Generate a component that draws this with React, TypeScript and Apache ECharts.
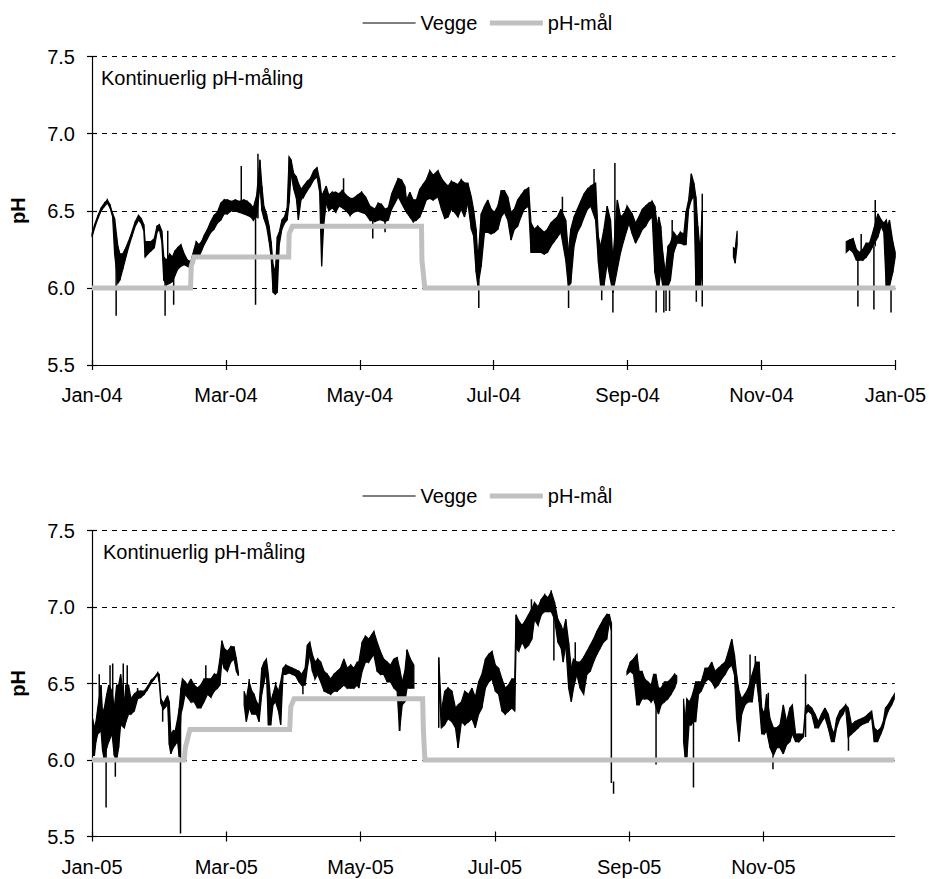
import React, { useEffect, useRef } from "react";
import * as echarts from "echarts";

type Rec = [number, number, number] | null;
type Spike = [number, number, number];

const FONT = "'Liberation Sans', Arial, sans-serif";

// x axis: days from 1 Jan of the panel year, ticks every 61 days
const xTickDays2004 = [0, 61, 122, 183, 244, 305, 366];
const xTickLabels2004 = ["Jan-04", "Mar-04", "May-04", "Jul-04", "Sep-04", "Nov-04", "Jan-05"];
const xTickDays2005 = [0, 61, 122, 183, 244, 305];
const xTickLabels2005 = ["Jan-05", "Mar-05", "May-05", "Jul-05", "Sep-05", "Nov-05"];

const legendNames = ["Vegge", "pH-mål"];
const noteText = "Kontinuerlig pH-måling";
const yName = "pH";

// Vegge 2004: [day, low, high] envelope of the measured pH (null = no data)
const veggeBand2004: Rec[] = [
  [0, 6.33, 6.35], [1.2, 6.39, 6.41], [2.7, 6.45, 6.47], [4.2, 6.5, 6.52], [5.7, 6.53, 6.55],
  [7, 6.55, 6.57], [8.2, 6.52, 6.54], [9.4, 6.46, 6.48], [10.3, 6.22, 6.45], [11.8, 6.03, 6.27],
  [12.7, 6.05, 6.22], [14, 6.12, 6.22], [15.1, 6.18, 6.25], [16.6, 6.26, 6.3], [18.1, 6.33, 6.36],
  [19.7, 6.4, 6.43], [21.2, 6.44, 6.47], [22.4, 6.42, 6.45], [23.6, 6.37, 6.41], [24.2, 6.2, 6.3],
  [25.4, 6.22, 6.3], [26.9, 6.24, 6.3], [28.4, 6.26, 6.32], [29.6, 6.36, 6.4], [30.7, 6.38, 6.41],
  [31.8, 6.3, 6.37], [32.7, 6.05, 6.2], [33.9, 6.02, 6.18], [35.4, 6.03, 6.22], [36.6, 6.04, 6.2],
  [37.8, 6.08, 6.24], [39, 6.12, 6.26], [40.5, 6.14, 6.28], [42, 6.15, 6.22], [43.5, 6.14, 6.18],
  [45, 6.13, 6.17], [46.3, 6.16, 6.24], [47.5, 6.22, 6.3], [48.7, 6.2, 6.28], [49.9, 6.24, 6.3],
  [51.1, 6.28, 6.34], [52.6, 6.32, 6.38], [54.1, 6.36, 6.43], [55.6, 6.38, 6.47], [57.1, 6.42, 6.49],
  [58.7, 6.44, 6.55], [60.2, 6.48, 6.57], [61.7, 6.48, 6.57], [63.5, 6.5, 6.56], [65.3, 6.5, 6.57],
  [67.1, 6.49, 6.56], [69.2, 6.48, 6.57], [70.8, 6.47, 6.56], [72.3, 6.46, 6.54], [73.5, 6.44, 6.52],
  [75, 6.46, 6.6], [76.5, 6.66, 6.83], [77.4, 6.5, 6.66], [78.3, 6.45, 6.53], [79.5, 6.4, 6.48],
  [80.7, 6.3, 6.4], [81.6, 6.2, 6.3], [82.5, 5.97, 6.15], [83.5, 5.96, 6.1], [84.4, 5.97, 6.33],
  [85.3, 6.28, 6.36], [86.5, 6.38, 6.44], [87.7, 6.42, 6.46], [88.9, 6.44, 6.52], [89.8, 6.55, 6.85],
  [90.7, 6.74, 6.83], [91.9, 6.64, 6.74], [93.1, 6.58, 6.72], [94, 6.44, 6.68], [95.2, 6.57, 6.64],
  [96.4, 6.59, 6.66], [98, 6.63, 6.69], [99.5, 6.66, 6.71], [101, 6.7, 6.76], [102.5, 6.72, 6.78],
  [103.7, 6.62, 6.7], [104.6, 6.14, 6.6], [105.5, 6.4, 6.62], [106.7, 6.55, 6.66], [107.9, 6.5, 6.6],
  [109.4, 6.52, 6.62], [111, 6.49, 6.62], [112.5, 6.53, 6.61], [114, 6.52, 6.63], [115.8, 6.5, 6.6],
  [117.6, 6.47, 6.58], [119.1, 6.49, 6.58], [120.9, 6.5, 6.6], [122.8, 6.49, 6.62], [124.6, 6.48, 6.59],
  [126.6, 6.44, 6.53], [128.9, 6.43, 6.51], [130.4, 6.44, 6.55], [131.9, 6.44, 6.54], [133.5, 6.43, 6.51],
  [135, 6.44, 6.52], [136.5, 6.51, 6.61], [138, 6.55, 6.66], [139.5, 6.59, 6.71], [141, 6.55, 6.7],
  [142.5, 6.51, 6.66], [143.3, 6.49, 6.57], [144.8, 6.46, 6.62], [146.3, 6.43, 6.57], [147.8, 6.44, 6.57],
  [149.3, 6.46, 6.64], [150.8, 6.51, 6.67], [152.3, 6.57, 6.7], [153.9, 6.58, 6.76], [155.4, 6.57, 6.73],
  [157.6, 6.59, 6.76], [159.2, 6.51, 6.71], [160.7, 6.45, 6.68], [162.2, 6.46, 6.66], [163.7, 6.51, 6.69],
  [165.2, 6.49, 6.68], [166.7, 6.46, 6.67], [168.2, 6.51, 6.7], [169.7, 6.46, 6.68], [171.2, 6.55, 6.68],
  [172.8, 6.38, 6.59], [173.8, 6.34, 6.51], [175, 6.1, 6.38], [175.8, 6.01, 6.18], [177.3, 6.14, 6.48],
  [178.8, 6.36, 6.53], [180.3, 6.36, 6.57], [181.8, 6.35, 6.51], [183.3, 6.36, 6.49], [184.9, 6.38, 6.53],
  [186.4, 6.46, 6.63], [187.9, 6.49, 6.63], [189.4, 6.44, 6.59], [190.9, 6.31, 6.49], [192.4, 6.38, 6.51],
  [193.9, 6.4, 6.57], [195.4, 6.46, 6.6], [196.9, 6.51, 6.63], [198.9, 6.53, 6.65], [200, 6.23, 6.42],
  [201.5, 6.23, 6.38], [203, 6.23, 6.4], [204.5, 6.23, 6.38], [206, 6.22, 6.36], [207.5, 6.23, 6.38],
  [209, 6.27, 6.42], [210.5, 6.3, 6.44], [212, 6.33, 6.46], [213.6, 6.36, 6.51], [215.8, 6.18, 6.44],
  [217, 6.01, 6.23], [218.1, 6.03, 6.38], [219.6, 6.27, 6.46], [221.1, 6.36, 6.51], [222.6, 6.4, 6.56],
  [224.2, 6.46, 6.61], [225.7, 6.51, 6.64], [227.2, 6.53, 6.66], [229.4, 6.44, 6.68], [230.7, 6.16, 6.33],
  [231.7, 6.01, 6.27], [233.2, 6.01, 6.38], [234.7, 6.16, 6.53], [236.2, 6.05, 6.44], [237.3, 5.97, 6.18],
  [239.3, 6.12, 6.57], [240.8, 6.23, 6.46], [242.3, 6.31, 6.48], [243.8, 6.38, 6.53], [244.6, 6.42, 6.51],
  [246.1, 6.35, 6.48], [247.6, 6.29, 6.42], [249.1, 6.33, 6.46], [250.7, 6.38, 6.51], [252.2, 6.4, 6.53],
  [253.7, 6.44, 6.55], [255.2, 6.46, 6.56], [256.4, 6.1, 6.53], [257.5, 6.01, 6.4], [258.2, 6.01, 6.46],
  [259.1, 6.1, 6.4], [260, 6.01, 6.23], [261.2, 6.01, 6.1], [262.4, 6.01, 6.27], [263.5, 6.05, 6.29],
  [265, 6.23, 6.36], [266.5, 6.29, 6.33], [268, 6.29, 6.36], [269.6, 6.28, 6.35], [270.6, 6.28, 6.49],
  [271.8, 6.51, 6.57], [273, 6.57, 6.74], [274.2, 6.59, 6.68], [275.1, 6.01, 6.59], [276, 6.01, 6.4],
  [277.1, 6.01, 6.23], [277.9, 6.1, 6.5],
  null,
  [292.2, 6.2, 6.26], [293, 6.16, 6.25], [293.9, 6.28, 6.37],
  null,
  [343.6, 6.23, 6.3], [345.1, 6.25, 6.31], [346.7, 6.23, 6.32], [348.2, 6.18, 6.25], [349.7, 6.18, 6.23],
  [351.2, 6.18, 6.25], [352.7, 6.2, 6.29], [354.2, 6.23, 6.29], [355.7, 6.27, 6.36], [358, 6.33, 6.48],
  [359.5, 6.4, 6.44], [360.7, 6.36, 6.42], [361.8, 6.01, 6.44], [362.5, 6.01, 6.4], [363.3, 6.01, 6.44],
  [364.8, 6.1, 6.3], [365.9, 6.2, 6.23],
];

// Vegge 2004: short single excursions [day, from, to]
const veggeSpikes2004: Spike[] = [
  [11, 5.82, 6.2], [33.3, 5.82, 6.1], [34.5, 6.1, 6.37], [37.2, 5.89, 6.1], [68, 6.55, 6.79],
  [74.5, 5.89, 6.45], [75.6, 6.45, 6.87], [114.6, 6.6, 6.71], [127.9, 6.32, 6.45], [133.5, 6.36, 6.43],
  [176.2, 5.87, 6.05], [214.3, 6.4, 6.59], [217.1, 5.87, 6.0], [228.7, 6.6, 6.77], [232.2, 5.92, 6.05],
  [237.3, 5.84, 6.0], [238.2, 6.3, 6.81], [257, 5.84, 6.0], [260.5, 5.84, 6.0], [261.5, 5.85, 6.0],
  [263.1, 5.85, 6.0], [264.3, 6.3, 6.44], [275.3, 5.91, 6.01], [278, 5.88, 6.61], [348.9, 5.88, 6.18],
  [350.4, 6.18, 6.35], [356.2, 5.86, 6.27], [356.8, 6.27, 6.57], [364, 5.84, 6.01],
];

// pH target 2004: [day, pH]
const target2004: [number, number][] = [
  [0, 6.0], [44.9, 6.0], [45.2, 6.14], [46.5, 6.2], [89.6, 6.2], [89.8, 6.35], [91.3, 6.4],
  [150.1, 6.4], [150.3, 6.18], [151.6, 6.0], [366, 6.0],
];

// Vegge 2005: [day, low, high]
const veggeBand2005: Rec[] = [
  [0.3, 6.03, 6.27], [1.1, 6.03, 6.21], [1.8, 6.12, 6.25], [2.6, 6.17, 6.34], [4.1, 6.19, 6.49],
  [4.8, 6.06, 6.3], [5.6, 6.0, 6.34], [6.7, 6.08, 6.43], [7.6, 6.12, 6.49], [9.1, 6.17, 6.45],
  [10.1, 6.03, 6.34], [11.2, 6.0, 6.49], [12.1, 6.08, 6.49], [13, 6.23, 6.56], [14.7, 6.21, 6.38],
  [15.4, 6.25, 6.49], [16.6, 6.3, 6.49], [17.7, 6.3, 6.4], [19.2, 6.32, 6.43], [20.7, 6.4, 6.45],
  [22.2, 6.41, 6.45], [23.7, 6.43, 6.45], [25.2, 6.46, 6.48], [26.8, 6.5, 6.52], [28.3, 6.53, 6.54],
  [29.8, 6.56, 6.57], [30.5, 6.51, 6.56], [31.3, 6.37, 6.4], [32.4, 6.33, 6.37], [33.6, 6.35, 6.4],
  [34.3, 6.39, 6.42], [35.1, 6.1, 6.38], [35.8, 6.04, 6.17], [36.9, 6.08, 6.19], [37.8, 6.1, 6.19],
  [38.9, 6.12, 6.27], [39.6, 6.02, 6.34], [40.4, 6.3, 6.47], [41.1, 6.34, 6.53], [42.3, 6.43, 6.51],
  [43.4, 6.41, 6.49], [44.9, 6.38, 6.53], [46.4, 6.38, 6.49], [47.9, 6.34, 6.47], [49.4, 6.34, 6.49],
  [50.9, 6.38, 6.53], [52.5, 6.43, 6.53], [54, 6.41, 6.53], [55.5, 6.45, 6.56], [57, 6.47, 6.56],
  [58.1, 6.49, 6.66], [59, 6.65, 6.78], [60, 6.6, 6.73], [61.5, 6.58, 6.71], [63, 6.64, 6.74],
  [64.5, 6.66, 6.74], [65.6, 6.58, 6.66], [66.5, 6.55, 6.57],
  null,
  [69.1, 6.36, 6.45], [70.1, 6.25, 6.4], [71.4, 6.34, 6.51], [72.6, 6.3, 6.45], [73.6, 6.3, 6.43],
  [74.7, 6.3, 6.38], [75.9, 6.25, 6.36], [77.1, 6.43, 6.6], [78.2, 6.51, 6.64], [79.2, 6.58, 6.66],
  [80.1, 6.23, 6.56], [81.2, 6.23, 6.38], [82.2, 6.36, 6.43], [83.4, 6.38, 6.49], [84.7, 6.32, 6.45],
  [85.7, 6.23, 6.51], [86.8, 6.56, 6.6], [88, 6.56, 6.62], [89.5, 6.57, 6.61], [91, 6.56, 6.6],
  [92.5, 6.55, 6.59], [94, 6.51, 6.58], [95.2, 6.49, 6.56], [96.8, 6.49, 6.6], [97.8, 6.6, 6.75],
  [98.9, 6.69, 6.77], [100.1, 6.58, 6.69], [101.3, 6.53, 6.64], [102.5, 6.56, 6.66], [103.9, 6.51, 6.64],
  [105.4, 6.45, 6.58], [106.9, 6.44, 6.56], [108.4, 6.43, 6.53], [109.9, 6.45, 6.56], [111.4, 6.45, 6.58],
  [112.9, 6.47, 6.6], [114.4, 6.49, 6.66], [115.9, 6.47, 6.6], [117.5, 6.47, 6.62], [119, 6.47, 6.6],
  [120.5, 6.49, 6.64], [121.2, 6.47, 6.64], [122.7, 6.58, 6.77], [124.2, 6.64, 6.81], [125.7, 6.64, 6.79],
  [128, 6.69, 6.84], [129.5, 6.58, 6.77], [131, 6.56, 6.71], [132.5, 6.56, 6.66], [134.1, 6.51, 6.64],
  [135.6, 6.51, 6.62], [137.1, 6.47, 6.66], [138.6, 6.45, 6.67], [139.7, 6.19, 6.6], [140.9, 6.36, 6.51],
  [142.1, 6.38, 6.58], [143.1, 6.47, 6.72], [144.6, 6.47, 6.66], [146.2, 6.47, 6.62],
  null,
  [157.5, 6.5, 6.67], [158.7, 6.21, 6.32], [160.2, 6.23, 6.45], [161.7, 6.27, 6.47], [163.5, 6.25, 6.45],
  [165.1, 6.21, 6.34], [166.3, 6.08, 6.36], [167.8, 6.25, 6.38], [169.3, 6.23, 6.45], [171.1, 6.25, 6.43],
  [172.6, 6.27, 6.47], [174.1, 6.21, 6.41], [175.6, 6.3, 6.51], [177.1, 6.34, 6.56], [178.7, 6.47, 6.66],
  [180.2, 6.51, 6.69], [181.7, 6.53, 6.71], [183.2, 6.45, 6.62], [184.7, 6.43, 6.6], [186.2, 6.32, 6.53],
  [187.7, 6.3, 6.47], [189.2, 6.32, 6.49], [190.7, 6.34, 6.53], [192, 6.32, 6.53], [192.6, 6.73, 6.95],
  [193.8, 6.71, 6.91], [195.3, 6.77, 6.88], [196.8, 6.73, 6.91], [198.3, 6.75, 6.95], [199.8, 6.79, 6.99],
  [201, 6.92, 7.03], [202.6, 6.88, 7.0], [204.1, 6.95, 7.05], [205.6, 6.97, 7.08], [207.1, 6.97, 7.06],
  [208.6, 6.97, 7.1], [210.1, 6.92, 7.03], [211.6, 6.77, 6.92], [213.1, 6.73, 6.88], [214, 6.64, 6.84],
  [215.2, 6.75, 6.92], [216.5, 6.47, 6.77], [217.7, 6.38, 6.6], [218.7, 6.47, 6.66], [220.2, 6.56, 6.64],
  [221.7, 6.47, 6.64], [223.3, 6.43, 6.67], [224.8, 6.56, 6.71], [226.3, 6.58, 6.75], [227.8, 6.64, 6.79],
  [229.3, 6.69, 6.84], [230.8, 6.73, 6.88], [232.3, 6.77, 6.92], [233.8, 6.79, 6.95], [235, 6.9, 6.95],
  [235.8, 6.85, 6.9],
  null,
  [243, 6.56, 6.58], [244.5, 6.58, 6.64], [246, 6.56, 6.66], [247.5, 6.36, 6.69], [248.5, 6.36, 6.58],
  [249.8, 6.4, 6.58], [251, 6.4, 6.53], [252.5, 6.4, 6.51], [254, 6.38, 6.49], [255.1, 6.4, 6.56],
  [256.1, 6.35, 6.56], [257.3, 6.3, 6.47], [258.5, 6.36, 6.47], [260, 6.38, 6.51], [261.5, 6.4, 6.51],
  [263, 6.43, 6.53], [264.6, 6.47, 6.56], [265.6, 6.51, 6.55],
  null,
  [268.7, 6.12, 6.4], [269.4, 6.02, 6.25], [270.2, 6.02, 6.4], [271.2, 6.23, 6.38], [272.1, 6.23, 6.4],
  [273.2, 6.25, 6.45], [274.2, 6.25, 6.51], [275.5, 6.43, 6.51], [276.7, 6.45, 6.51], [278.5, 6.51, 6.6],
  [280, 6.53, 6.6], [281.5, 6.51, 6.64], [283, 6.47, 6.58], [284.5, 6.49, 6.6], [286, 6.53, 6.62],
  [287.6, 6.56, 6.64], [289.1, 6.6, 6.71], [290.6, 6.62, 6.79], [291.8, 6.56, 6.69], [292.8, 6.27, 6.56],
  [293.9, 6.12, 6.45], [295.1, 6.3, 6.4], [296.6, 6.36, 6.43], [298.1, 6.38, 6.47], [299.9, 6.38, 6.56],
  [301.5, 6.56, 6.64], [303, 6.38, 6.64], [304.2, 6.17, 6.34], [305.4, 6.17, 6.3], [306.4, 6.19, 6.43],
  [308, 6.08, 6.27], [309.5, 6.03, 6.21], [311, 6.08, 6.21], [312.5, 6.08, 6.23], [314, 6.04, 6.36],
  [315.5, 6.1, 6.25], [317, 6.12, 6.34], [318.1, 6.17, 6.36], [319.6, 6.12, 6.17], [321.1, 6.12, 6.17],
  [323.1, 6.15, 6.17], [324.1, 6.3, 6.35], [325.3, 6.32, 6.36], [326.9, 6.3, 6.34], [328.4, 6.21, 6.3],
  [329.9, 6.21, 6.25], [331.4, 6.25, 6.3], [332.9, 6.28, 6.34], [334.4, 6.21, 6.3], [335.9, 6.12, 6.21],
  [337.1, 6.12, 6.17], [338.2, 6.21, 6.27], [339.7, 6.27, 6.32], [341.2, 6.3, 6.34], [342.3, 6.34, 6.36],
  [343.5, 6.15, 6.34], [345, 6.17, 6.23], [346.5, 6.19, 6.25], [348, 6.21, 6.26], [349.5, 6.23, 6.27],
  [351, 6.24, 6.28], [352.6, 6.25, 6.3], [354.1, 6.28, 6.32], [355.3, 6.12, 6.21], [356.8, 6.12, 6.19],
  [358.3, 6.17, 6.21], [359.4, 6.21, 6.25], [360.4, 6.27, 6.34], [361.6, 6.32, 6.36], [363.2, 6.36, 6.4],
  [364.4, 6.4, 6.43],
];

const veggeSpikes2005: Spike[] = [
  [3.3, 6.3, 6.56], [6.4, 5.69, 6.1], [8.2, 6.3, 6.62], [9.4, 6.3, 6.63], [10.6, 5.89, 6.1],
  [14.2, 6.4, 6.63], [16, 6.4, 6.62], [20.7, 6.4, 6.47], [32.1, 6.25, 6.37], [40.2, 5.52, 6.3],
  [51.7, 6.45, 6.62], [71.4, 6.45, 6.53], [83.4, 6.45, 6.51], [95.8, 6.43, 6.49], [139.7, 6.19, 6.4],
  [143.1, 6.6, 6.72], [157.5, 6.21, 6.67], [166.3, 6.08, 6.3], [199.6, 6.95, 7.05], [208.6, 7.0, 7.11],
  [209.8, 6.65, 6.95], [219.5, 6.6, 6.77], [235.9, 5.85, 6.9], [236.9, 5.78, 5.86], [256.2, 5.97, 6.35],
  [273.2, 5.82, 6.25], [298.9, 6.47, 6.69], [301.3, 6.5, 6.68], [307.2, 6.3, 6.44], [309.3, 5.94, 6.03],
  [324.1, 6.15, 6.56], [343.6, 6.06, 6.2],
];

const target2005: [number, number][] = [
  [0, 6.0], [41.9, 6.0], [42.4, 6.08], [44.5, 6.2], [89.8, 6.2], [90.3, 6.35], [91.8, 6.4],
  [150.2, 6.4], [150.5, 6.2], [151.2, 6.0], [364.5, 6.0],
];

function bandItems(recs: Rec[]) {
  const out: number[][] = [];
  for (let i = 0; i < recs.length; i++) {
    const a = recs[i];
    if (!a) continue;
    const b = recs[i + 1];
    if (b) out.push([a[0], a[1], a[2], b[0], b[1], b[2]]);
    else if (!recs[i - 1]) out.push([a[0], a[1], a[2], a[0], a[1], a[2]]);
  }
  return out;
}

function spikeData(sp: Spike[]) {
  const out: any[] = [];
  sp.forEach(([d, a, b]) => {
    out.push([d, a], [d, b], [d, "-"]);
  });
  return out;
}

const textBase = { fontFamily: FONT, fontSize: 20, color: "#000" };

function xAxes(gridIndex: number, max: number, days: number[], labels: string[]) {
  return [
    {
      type: "value",
      gridIndex,
      min: 0,
      max,
      position: "bottom",
      axisLine: { show: true, onZero: false, lineStyle: { color: "#000", width: 1.2 } },
      axisTick: { show: true, inside: false, length: 5, customValues: days, lineStyle: { color: "#000", width: 1.2 } },
      axisLabel: {
        show: true,
        customValues: days,
        margin: 20,
        ...textBase,
        formatter: (v: number) => {
          const i = days.findIndex((d) => Math.abs(d - v) < 0.01);
          return i >= 0 ? labels[i] : "";
        },
      },
      splitLine: { show: false },
    },
    {
      type: "value",
      gridIndex,
      min: 0,
      max,
      position: "bottom",
      axisLine: { show: false },
      axisTick: { show: true, inside: true, length: 5, customValues: days, lineStyle: { color: "#000", width: 1.2 } },
      axisLabel: { show: false },
      splitLine: { show: false },
    },
  ];
}

function yAxes(gridIndex: number) {
  return [
    {
      type: "value",
      gridIndex,
      min: 5.5,
      max: 7.5,
      interval: 0.5,
      position: "left",
      name: yName,
      nameLocation: "middle",
      nameGap: 64,
      nameTextStyle: { ...textBase, fontWeight: "bold" },
      axisLine: { show: true, lineStyle: { color: "#000", width: 1.2 } },
      axisTick: { show: true, length: 5, lineStyle: { color: "#000", width: 1.2 } },
      axisLabel: { ...textBase, margin: 17, formatter: (v: number) => v.toFixed(1) },
      splitLine: { show: true, lineStyle: { color: "#000", width: 1, type: [5, 5] } },
    },
    {
      type: "value",
      gridIndex,
      min: 5.5,
      max: 7.5,
      interval: 0.5,
      position: "left",
      axisLine: { show: false },
      axisTick: { show: true, inside: true, length: 5, lineStyle: { color: "#000", width: 1.2 } },
      axisLabel: { show: false },
      splitLine: { show: false },
    },
  ];
}

function bandSeries(recs: Rec[], xAxisIndex: number, yAxisIndex: number) {
  return {
    type: "custom",
    name: "Vegge",
    xAxisIndex,
    yAxisIndex,
    z: 2,
    silent: true,
    encode: { x: [0, 3], y: [1, 2, 4, 5] },
    data: bandItems(recs),
    renderItem: (_p: any, api: any) => {
      const d1 = api.value(0);
      const d2 = api.value(3);
      const a = api.coord([d1, api.value(1)]);
      const b = api.coord([d1, api.value(2)]);
      const c = api.coord([d2, api.value(5)]);
      const e = api.coord([d2, api.value(4)]);
      return {
        type: "polygon",
        shape: { points: [a, b, c, e] },
        style: { fill: "#000", stroke: "#000", lineWidth: 1.2, lineJoin: "miter" },
      };
    },
  };
}

function spikeSeries(sp: Spike[], xAxisIndex: number, yAxisIndex: number) {
  return {
    type: "line",
    name: "Vegge",
    xAxisIndex,
    yAxisIndex,
    z: 2,
    symbol: "none",
    showSymbol: false,
    connectNulls: false,
    silent: true,
    lineStyle: { color: "#000", width: 1.5 },
    itemStyle: { color: "#000" },
    data: spikeData(sp),
  };
}

function targetSeries(data: [number, number][], xAxisIndex: number, yAxisIndex: number) {
  return {
    type: "line",
    name: "pH-mål",
    xAxisIndex,
    yAxisIndex,
    z: 4,
    symbol: "none",
    showSymbol: false,
    silent: true,
    lineStyle: { color: "#c0c0c0", width: 5, join: "miter" },
    itemStyle: { color: "#c0c0c0" },
    data,
  };
}

function legendAt(top: number) {
  return {
    top,
    left: 357,
    itemWidth: 53,
    itemHeight: 14,
    itemGap: 10,
    selectedMode: false,
    textStyle: { ...textBase },
    data: [
      { name: legendNames[0], itemStyle: { opacity: 0 }, lineStyle: { width: 1.2, color: "#000" } },
      { name: legendNames[1], itemStyle: { opacity: 0 }, lineStyle: { width: 5, color: "#c0c0c0" } },
    ],
  };
}

export default function App() {
  const ref = useRef<HTMLDivElement>(null);

  useEffect(() => {
    if (!ref.current) return;
    const chart = echarts.init(ref.current, undefined, { renderer: "svg" });
    const option: any = {
      animation: false,
      backgroundColor: "#fff",
      textStyle: { fontFamily: FONT },
      legend: [legendAt(8), legendAt(481)],
      grid: [
        { left: 89, top: 56.5, width: 807, height: 308.5, containLabel: false },
        { left: 91, top: 530.5, width: 803.7, height: 306, containLabel: false },
      ],
      xAxis: [
        ...xAxes(0, 366, xTickDays2004, xTickLabels2004),
        ...xAxes(1, 364.6, xTickDays2005, xTickLabels2005),
      ],
      yAxis: [...yAxes(0), ...yAxes(1)],
      graphic: [
        { type: "text", left: 101, top: 68, style: { text: noteText, font: `20px ${FONT}`, fill: "#000" } },
        { type: "text", left: 103, top: 542, style: { text: noteText, font: `20px ${FONT}`, fill: "#000" } },
      ],
      series: [
        spikeSeries(veggeSpikes2004, 0, 0),
        spikeSeries(veggeSpikes2005, 2, 2),
        bandSeries(veggeBand2004, 0, 0),
        bandSeries(veggeBand2005, 2, 2),
        targetSeries(target2004, 0, 0),
        targetSeries(target2005, 2, 2),
      ],
    };
    chart.setOption(option);
    return () => chart.dispose();
  }, []);

  return (
    <div
      ref={ref}
      style={{ position: "absolute", left: 0, top: 0, width: 929, height: 879, background: "#fff" }}
    />
  );
}
